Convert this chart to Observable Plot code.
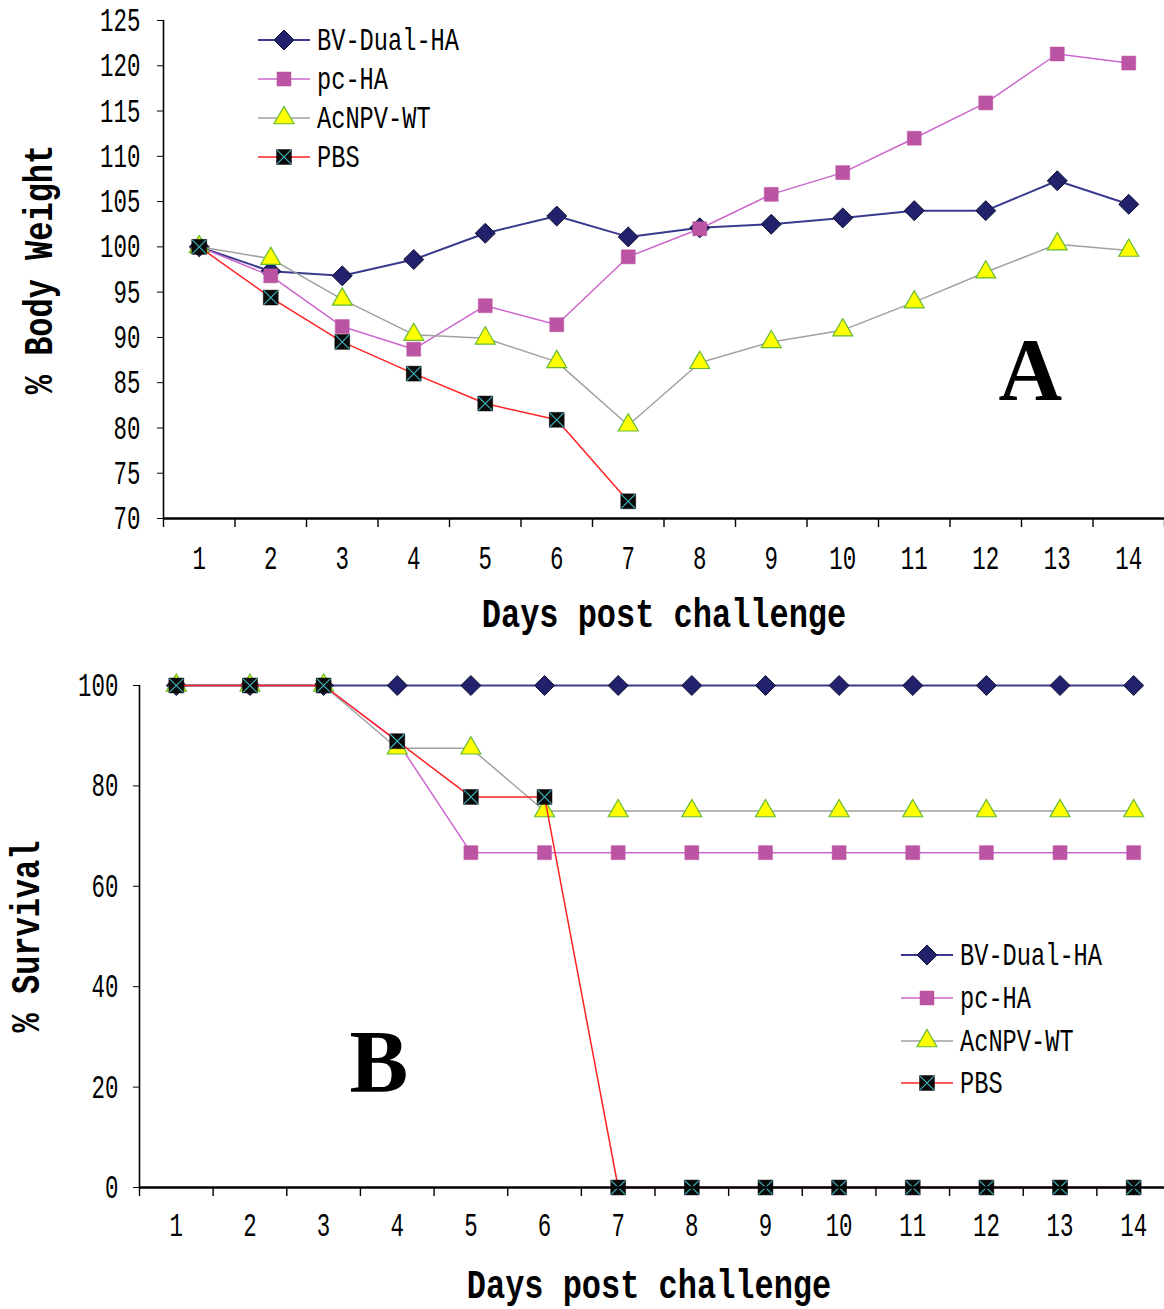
<!DOCTYPE html>
<html><head><meta charset="utf-8">
<script src="https://cdn.jsdelivr.net/npm/d3@7"></script>
<script src="https://cdn.jsdelivr.net/npm/@observablehq/plot@0.6"></script>
<style>
body{margin:0;background:#fff;}
#wrap{position:relative;width:1164px;height:1309px;overflow:hidden;background:#fff;}
.panel{position:relative;width:1164px;}
.panel svg{display:block;overflow:visible;}
.legend{position:absolute;left:0;top:0;overflow:visible;}
</style></head><body><div id="wrap"></div>
<script>
// ---- data ----
const days = [1,2,3,4,5,6,7,8,9,10,11,12,13,14];
const seriesNames = ["BV-Dual-HA","pc-HA","AcNPV-WT","PBS"];
const legendLabelsA = ["BV-Dual-HA"," pc-HA","AcNPV-WT","PBS"];
// Panel A: % body weight
const weightBV    = [100, 97.3, 96.8, 98.6, 101.5, 103.4, 101.1, 102.1, 102.5, 103.2, 104.0, 104.0, 107.3, 104.7];
const weightPcHA  = [100, 96.8, 91.2, 88.7, 93.5, 91.4, 98.9, 102.0, 105.8, 108.2, 112.0, 115.9, 121.3, 120.3];
const weightAcNPV = [100, 98.7, 94.2, 90.3, 89.9, 87.3, 80.3, 87.2, 89.5, 90.8, 93.9, 97.2, 100.3, 99.6];
const weightPBS   = [100, 94.4, 89.5, 86.0, 82.7, 80.9, 71.9, null, null, null, null, null, null, null];
const weightTicks = [70,75,80,85,90,95,100,105,110,115,120,125];
// Panel B: % survival
const survBV    = [100,100,100,100,100,100,100,100,100,100,100,100,100,100];
const survPcHA  = [100,100,100,88.9,66.7,66.7,66.7,66.7,66.7,66.7,66.7,66.7,66.7,66.7];
const survAcNPV = [100,100,100,87.5,87.5,75,75,75,75,75,75,75,75,75];
const survPBS   = [100,100,100,88.9,77.8,77.8,0,0,0,0,0,0,0,0];
const survTicks = [0,20,40,60,80,100];

// ---- styles ----
const styles = {
  "BV-Dual-HA": {line:"#3a3a8e", lw:2, symbol:"diamond2", r:9, fill:"#22226c", stroke:"#111133", sw:1},
  "pc-HA":      {line:"#cc66cc", lw:1.5, symbol:"square", r:7.9, fill:"#bb55a3", stroke:"#bb55a3", sw:0.5},
  "AcNPV-WT":   {line:"#a0a0a0", lw:1.5, symbol:"triangle", r:7.4, fill:"#ffff00", stroke:"#66bb33", sw:1.2},
  "PBS":        {line:"#ff2222", lw:1.5, symbol:"square", r:8.4, fill:"#0a0a0a", stroke:"#000", sw:0.5}
};
const monoFont = "'Liberation Mono', monospace";
const TICK_FS = 33, TITLE_FS = 41, LEG_FS = 32;
const squeezeBySize = {[TICK_FS]:0.68, [TITLE_FS]:0.78};

function makeRows(arrs){
  const rows = [];
  seriesNames.forEach((s,i)=>{
    arrs[i].forEach((v,j)=>{ if(v!=null) rows.push({series:s, day:days[j], value:v}); });
  });
  return rows;
}

function seriesMarks(rows){
  const marks = [];
  for(const s of seriesNames){
    const st = styles[s];
    const d = rows.filter(r=>r.series===s);
    marks.push(Plot.line(d,{x:"day",y:"value",stroke:st.line,strokeWidth:st.lw}));
    marks.push(Plot.dot(d,{x:"day",y:"value",symbol:st.symbol,r:st.r,fill:st.fill,stroke:st.stroke,strokeWidth:st.sw}));
    if(s==="PBS") marks.push(Plot.dot(d,{x:"day",y:"value",symbol:"times",r:6.4,stroke:"#3fb8c0",strokeWidth:1.1}));
  }
  return marks;
}

const halfTicks = d3.range(0.5, 15, 1);

function squeeze(root){
  root.querySelectorAll("text").forEach(t=>{
    const g = t.closest("[font-size]");
    const fs = g ? +g.getAttribute("font-size") : NaN;
    const sx = squeezeBySize[fs]; if(!sx) return;
    const x = parseFloat(t.getAttribute("x")) || 0;
    const tr = t.getAttribute("transform") || "";
    t.setAttribute("transform", `${tr} translate(${x},0) scale(${sx},1) translate(${-x},0)`);
  });
}

function panel(o){
  const svg = Plot.plot({
    width:1164, height:o.height,
    marginTop:o.mt, marginBottom:o.mb, marginLeft:o.ml, marginRight:o.mr,
    x:{domain:[0.5,14.5], axis:null},
    y:{domain:o.yDomain, axis:null},
    style:{background:"#fff", overflow:"visible"},
    marks:[
      ...seriesMarks(o.rows),
      Plot.ruleX([0.5],{stroke:"#000",strokeWidth:1.6}),
      Plot.ruleY([o.yDomain[0]],{stroke:"#000",strokeWidth:2.6}),
      Plot.axisY(o.yTicks,{tickSize:6,tickPadding:o.ytp,fontSize:TICK_FS,fontFamily:monoFont,label:null,stroke:"#000",fill:"#000",tickFormat:d=>d}),
      Plot.axisX(halfTicks,{tickSize:9,tickFormat:()=>"",label:null,stroke:"#000",strokeWidth:1.4}),
      Plot.axisX(days,{tickSize:0,tickPadding:o.xtp,fontSize:TICK_FS,fontFamily:monoFont,label:null,fill:"#000",tickFormat:d=>d}),
      Plot.text([o.xLabel],{frameAnchor:"bottom",dy:o.xLabelDy,dx:o.xLabelDx,fontSize:TITLE_FS,fontWeight:"bold",fontFamily:monoFont,fill:"#000"}),
      Plot.text([o.yLabel],{frameAnchor:"left",textAnchor:"middle",rotate:-90,dx:o.yLabelDx,fontSize:TITLE_FS,fontWeight:"bold",fontFamily:monoFont,fill:"#000"}),
      Plot.text([o.letter],{frameAnchor:"top-left",dx:o.letterDx,dy:o.letterDy,fontSize:88,fontWeight:"bold",fontFamily:"'Liberation Serif', serif",fill:"#000",lineAnchor:"bottom"})
    ]
  });
  squeeze(svg);
  return svg;
}

function legend(container, labels, x0, rows){
  const svg = d3.select(container).append("svg").attr("class","legend").attr("width",1164).attr("height",700);
  seriesNames.forEach((s,i)=>{
    const st = styles[s];
    const g = svg.append("g").attr("transform",`translate(0,${rows[i]})`);
    g.append("line").attr("x1",x0).attr("x2",x0+52).attr("y1",0).attr("y2",0).attr("stroke",st.line).attr("stroke-width",st.lw);
    const typ = {diamond2:d3.symbolDiamond2, square:d3.symbolSquare, triangle:d3.symbolTriangle}[st.symbol];
    g.append("path").attr("d",d3.symbol(typ, Math.PI*st.r*st.r)()).attr("transform",`translate(${x0+26},0)`)
      .attr("fill",st.fill).attr("stroke",st.stroke).attr("stroke-width",st.sw);
    if(s==="PBS") g.append("path").attr("d",d3.symbol(d3.symbolTimes, Math.PI*6.4*6.4)()).attr("transform",`translate(${x0+26},0)`).attr("stroke","#3fb8c0").attr("stroke-width",1.1).attr("fill","none");
    const tx = x0+59;
    g.append("text").attr("x",tx).attr("y",0).attr("dy","0.32em").attr("font-family",monoFont).attr("font-size",LEG_FS).attr("fill","#000")
      .attr("transform",`translate(${tx},0) scale(0.74,1) translate(${-tx},0)`).text(labels[i]);
  });
}

const wrap = document.getElementById("wrap");

const pa = document.createElement("div"); pa.className="panel"; wrap.appendChild(pa);
pa.appendChild(panel({
  rows: makeRows([weightBV,weightPcHA,weightAcNPV,weightPBS]),
  height:640, mt:20, mb:122, ml:163, mr:0,
  yDomain:[70,125], yTicks:weightTicks, ytp:17, xtp:27,
  xLabel:"Days post challenge", xLabelDy:108, xLabelDx:0,
  yLabel:"% Body Weight", yLabelDx:-125,
  letter:"A", letterDx:835, letterDy:378
}));
legend(pa, legendLabelsA, 258, [40,79,118,157]);

const pb = document.createElement("div"); pb.className="panel"; wrap.appendChild(pb);
pb.appendChild(panel({
  rows: makeRows([survBV,survPcHA,survAcNPV,survPBS]),
  height:669, mt:45, mb:122, ml:139, mr:-6,
  yDomain:[0,100], yTicks:survTicks, ytp:15, xtp:25,
  xLabel:"Days post challenge", xLabelDy:110, xLabelDx:-6,
  yLabel:"% Survival", yLabelDx:-114,
  letter:"B", letterDx:210, letterDy:405
}));
legend(pb, seriesNames, 901, [315,358,401,443]);
</script></body></html>
